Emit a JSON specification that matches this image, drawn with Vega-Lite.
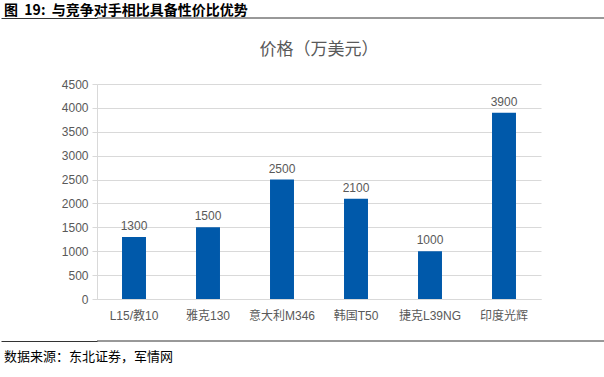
{
  "$schema": "https://vega.github.io/schema/vega-lite/v6.json",
  "padding": {"top": 3, "left": 0, "right": 0, "bottom": 0},
  "background": "white",
  "spacing": 15,
  "config": {
    "font": "Liberation Sans, Noto Sans CJK SC",
    "view": {"stroke": null}
  },
  "vconcat": [
    {
      "width": 508,
      "height": 8,
      "title": {
        "text": "图\u00a0\u00a019:\u00a0\u00a0与竞争对手相比具备性价比优势",
        "anchor": "start",
        "frame": "group",
        "dx": -93,
        "font": "Noto Sans CJK SC",
        "fontSize": 14,
        "fontWeight": "bold",
        "color": "#000000",
        "offset": 0
      },
      "data": {"values": [{}]},
      "mark": {"type": "rule", "color": "#333333", "strokeWidth": 1},
      "encoding": {
        "y": {
          "datum": 1,
          "type": "quantitative",
          "scale": {"domain": [0, 1]},
          "axis": {
            "title": null,
            "values": [1],
            "labels": false,
            "domain": false,
            "grid": false,
            "ticks": true,
            "tickSize": 96,
            "tickColor": "#333333",
            "tickWidth": 1,
            "minExtent": 96
          }
        }
      }
    },
    {
      "width": 444,
      "height": 215,
      "title": {
        "text": "价格（万美元）",
        "font": "Noto Sans CJK SC",
        "fontSize": 17,
        "fontWeight": "normal",
        "color": "#595959",
        "offset": 19
      },
      "data": {
        "values": [
          {"model": "L15/教10", "price": 1300},
          {"model": "雅克130", "price": 1500},
          {"model": "意大利M346", "price": 2500},
          {"model": "韩国T50", "price": 2100},
          {"model": "捷克L39NG", "price": 1000},
          {"model": "印度光辉", "price": 3900}
        ]
      },
      "encoding": {
        "x": {
          "field": "model",
          "type": "nominal",
          "sort": null,
          "scale": {"paddingInner": 0.676, "paddingOuter": 0.338},
          "axis": {
            "title": null,
            "labelAngle": 0,
            "labelFontSize": 12,
            "labelColor": "#595959",
            "labelPadding": 11,
            "minExtent": 26,
            "ticks": false,
            "domainColor": "#d9d9d9",
            "grid": false
          }
        },
        "y": {
          "field": "price",
          "type": "quantitative",
          "scale": {"domain": [0, 4500], "nice": false},
          "axis": {
            "title": null,
            "format": "d",
            "values": [0, 500, 1000, 1500, 2000, 2500, 3000, 3500, 4000, 4500],
            "labelFontSize": 12,
            "labelColor": "#595959",
            "labelPadding": 4,
            "minExtent": 96,
            "tickColor": "#d9d9d9",
            "tickSize": 5,
            "domainColor": "#d9d9d9",
            "gridColor": "#d9d9d9"
          }
        }
      },
      "layer": [
        {"mark": {"type": "bar", "color": "#0059AA"}},
        {
          "mark": {"type": "text", "baseline": "bottom", "dy": -4, "fontSize": 12, "color": "#595959"},
          "encoding": {"text": {"field": "price", "type": "quantitative"}}
        }
      ]
    },
    {
      "width": 508,
      "height": 1,
      "title": {
        "text": "数据来源：东北证券，军情网",
        "orient": "bottom",
        "anchor": "start",
        "frame": "group",
        "dx": -93,
        "font": "Noto Sans CJK SC",
        "fontSize": 13,
        "fontWeight": "normal",
        "color": "#000000",
        "offset": 9
      },
      "data": {"values": [{}]},
      "mark": {"type": "rule", "color": "#333333", "strokeWidth": 1},
      "encoding": {
        "y": {
          "datum": 1,
          "type": "quantitative",
          "scale": {"domain": [0, 1]},
          "axis": {
            "title": null,
            "values": [1],
            "labels": false,
            "domain": false,
            "grid": false,
            "ticks": true,
            "tickSize": 96,
            "tickColor": "#333333",
            "tickWidth": 1,
            "minExtent": 96
          }
        }
      }
    }
  ]
}
